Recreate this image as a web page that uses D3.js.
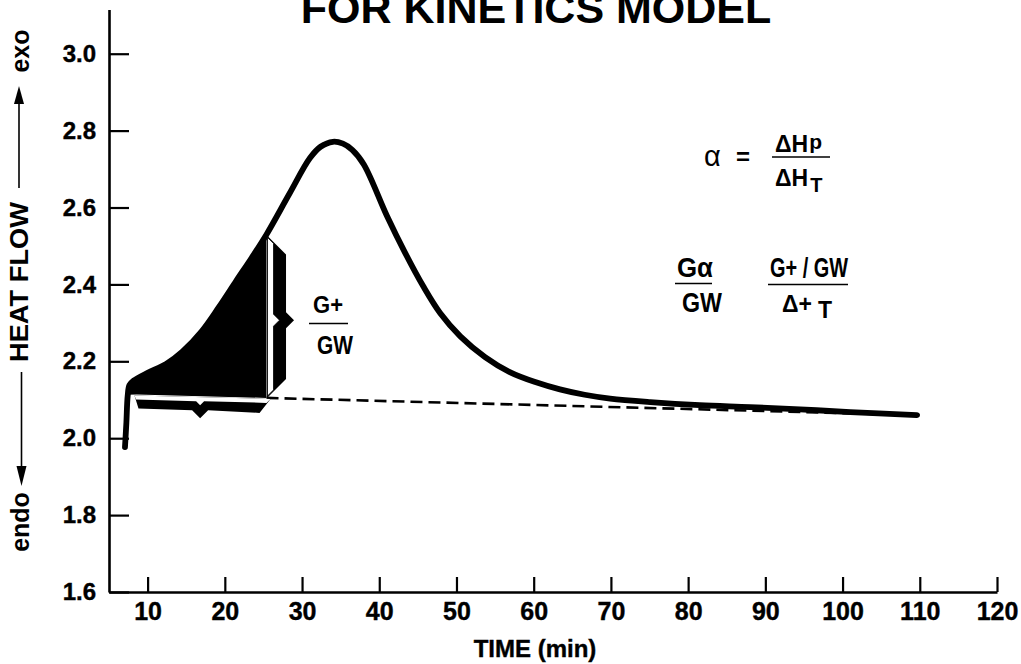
<!DOCTYPE html>
<html><head><meta charset="utf-8">
<script src="https://cdn.jsdelivr.net/npm/d3@7"></script>
<style>
body{margin:0;background:#fff}
svg{display:block}
text{font-family:"Liberation Sans",Arial,Helvetica,sans-serif;font-weight:bold;fill:#000}
</style>
</head><body>
<svg id="chart" width="1021" height="664"></svg>
<script>
// ---------------- data ----------------
const titleText = "FOR KINETICS MODEL";
const xLabel = "TIME (min)";
const yLabelParts = ["endo", "HEAT FLOW", "exo"];
const xTicks = [10, 20, 30, 40, 50, 60, 70, 80, 90, 100, 110, 120];
const yTicks = [1.6, 1.8, 2.0, 2.2, 2.4, 2.6, 2.8, 3.0];
// DSC heat-flow trace (time in min, heat flow)
const curveTime = [7.07, 7.25, 7.42, 7.65, 8.2, 10.0, 12.4, 14.5, 17.0, 19.2, 21.5, 23.5, 25.4,
  28.4, 31.0, 32.4, 34.0, 35.3, 36.5, 38.0, 41.0, 43.3, 45.7, 47.9, 50.5, 53.7, 56.9, 60.2,
  63.4, 66.6, 69.9, 75.1, 81.5, 88.0, 94.5, 101.0, 109.6];
const curveHeat = [1.977, 2.040, 2.110, 2.138, 2.150, 2.170, 2.193, 2.225, 2.278, 2.340, 2.410, 2.470, 2.530,
  2.637, 2.728, 2.758, 2.771, 2.766, 2.750, 2.712, 2.578, 2.484, 2.395, 2.325, 2.265, 2.211, 2.172, 2.146,
  2.127, 2.113, 2.103, 2.094, 2.086, 2.081, 2.075, 2.068, 2.060];
// straight baseline (dashed)
const baseTime = [8.0, 110.0];
const baseHeat = [2.114, 2.060];
// partial area limits (time)
const partialStart = 7.42;
const partialEnd = 25.4;
const hBraceTip = 16.8;

// ---------------- layout ----------------
const svg = d3.select("#chart");
const x = d3.scaleLinear().domain([5, 120]).range([109, 997]);
const y = d3.scaleLinear().domain([1.6, 3.115]).range([592, 9.5]);
const baseAt = d3.scaleLinear().domain(baseTime).range(baseHeat);

// axes
const gx = svg.append("g").attr("transform", `translate(0,${y(1.6)})`)
  .call(d3.axisBottom(x).tickValues(xTicks).tickSizeInner(-15).tickSizeOuter(0).tickPadding(10));
const gy = svg.append("g").attr("transform", `translate(${x(5)},0)`)
  .call(d3.axisLeft(y).tickValues(yTicks).tickFormat(d3.format(".1f")).tickSizeInner(-20).tickSizeOuter(0).tickPadding(13));
[gx, gy].forEach(g => {
  g.select(".domain").attr("stroke", "#000").attr("stroke-width", 2.6);
  g.selectAll(".tick line").attr("stroke", "#000").attr("stroke-width", 2.2);
  g.selectAll(".tick text").style("font-size", "24px").attr("fill", "#000")
    .attr("stroke", "#000").attr("stroke-width", 0.4);
});
gx.selectAll(".tick text").style("font-size", "25px");

// title & axis labels
svg.append("text").attr("x", 536).attr("y", 23).attr("text-anchor", "middle")
  .style("font-size", "43px").text(titleText);
svg.append("text").attr("x", 535).attr("y", 657).attr("text-anchor", "middle")
  .style("font-size", "24px").attr("stroke", "#000").attr("stroke-width", 0.4).text(xLabel);

// rotated y label pieces
const yl = [
  {t: yLabelParts[0], cy: 522, bx: 29, fs: 25},
  {t: yLabelParts[1], cy: 282, bx: 28, fs: 26, len: 160},
  {t: yLabelParts[2], cy: 51, bx: 29, fs: 25}
];
yl.forEach(d => {
  const t = svg.append("text").attr("transform", `translate(${d.bx},${d.cy}) rotate(-90)`)
    .attr("text-anchor", "middle").style("font-size", d.fs + "px").text(d.t);
  if (d.len) t.attr("textLength", d.len).attr("lengthAdjust", "spacingAndGlyphs");
});
// arrows
svg.append("line").attr("x1", 19).attr("x2", 19).attr("y1", 188).attr("y2", 100)
  .attr("stroke", "#000").attr("stroke-width", 1.6);
svg.append("path").attr("d", "M19,86 L14,104 L24,104 Z").attr("fill", "#000");
svg.append("line").attr("x1", 21.5).attr("x2", 21.5).attr("y1", 372).attr("y2", 470)
  .attr("stroke", "#000").attr("stroke-width", 1.6);
svg.append("path").attr("d", "M21.5,486 L16.5,466 L26.5,466 Z").attr("fill", "#000");

// ---------------- marks ----------------
const pts = curveTime.map((t, i) => [t, curveHeat[i]]);
const line = d3.line().x(d => x(d[0])).y(d => y(d[1])).curve(d3.curveCatmullRom.alpha(0.5));

// dashed baseline
svg.append("line")
  .attr("x1", x(partialEnd)).attr("y1", y(baseAt(partialEnd)))
  .attr("x2", x(baseTime[1])).attr("y2", y(baseHeat[1]))
  .attr("stroke", "#000").attr("stroke-width", 2.6).attr("stroke-dasharray", "12,6");

// filled partial area
const sub = pts.filter(d => d[0] >= partialStart && d[0] <= partialEnd);
const fillPath = line(sub) +
  `L${x(partialEnd)},${y(baseAt(partialEnd))}L${x(partialStart)},${y(baseAt(partialStart))}Z`;
svg.append("path").attr("d", fillPath).attr("fill", "#000");

// main curve
svg.append("path").attr("d", line(pts)).attr("fill", "none")
  .attr("stroke", "#000").attr("stroke-width", 5.8).attr("stroke-linejoin", "round").attr("stroke-linecap", "round");

// vertical brace
const xb = x(partialEnd) + 0.5;
const yt = y(curveHeat[curveTime.indexOf(partialEnd)]);
const yb = y(baseAt(partialEnd));
const ym = (yt + yb) / 2 + 4;
function braceV(x0, ytop, ybot, w, t, mid) {
  return `M${x0},${ytop}L${x0 + w},${ytop + w}L${x0 + w},${mid - t}L${x0 + w + t},${mid}` +
    `L${x0 + w},${mid + t}L${x0 + w},${ybot - w}L${x0},${ybot}Z`;
}
svg.append("path").attr("d", braceV(xb, yt + 1, yb, 19, 8, ym)).attr("fill", "#000");
svg.append("path").attr("d", braceV(xb + 0.5, yt + 3, yb - 2, 6, 6, ym)).attr("fill", "#fff")
  .attr("stroke", "#000").attr("stroke-width", 0.8);

// horizontal brace under the partial area
const xl = x(8.3), xr = x(partialEnd) + 4, xm = x(hBraceTip);
const yl0 = y(baseAt(8.3)) + 1, yr0 = y(baseAt(partialEnd)) + 1, ym0 = y(baseAt(hBraceTip)) + 1;
svg.append("path").attr("d",
  `M${xl},${yl0}L${xr},${yr0}L${xr - 11},${yr0 + 14}L${xm + 8},${ym0 + 13}L${xm},${ym0 + 21}` +
  `L${xm - 8},${ym0 + 13}L${xl + 4},${yl0 + 13}Z`).attr("fill", "#000");
svg.append("path").attr("d",
  `M${xl},${yl0}L${xr},${yr0}L${xr - 4},${yr0 + 4}L${xm + 4},${ym0 + 4}L${xm},${ym0 + 8}` +
  `L${xm - 4},${ym0 + 4}L${xl + 1.5},${yl0 + 4}Z`).attr("fill", "#fff");

// ---------------- annotations ----------------
function frac(x1, x2, yy) {
  svg.append("line").attr("x1", x1).attr("x2", x2).attr("y1", yy).attr("y2", yy)
    .attr("stroke", "#000").attr("stroke-width", 1.5);
}
// G+ / GW beside brace
svg.append("text").attr("x", 313).attr("y", 313).style("font-size", "23px")
  .attr("textLength", 30).attr("lengthAdjust", "spacingAndGlyphs").text("G+");
frac(309, 348, 323.5);
svg.append("text").attr("x", 317).attr("y", 354).style("font-size", "26px")
  .attr("textLength", 36).attr("lengthAdjust", "spacingAndGlyphs").text("GW");

// alpha = dHp / dHT
svg.append("text").attr("x", 704).attr("y", 166).style("font-size", "29px").style("font-weight", "normal").text("α");
svg.append("text").attr("x", 736).attr("y", 165).style("font-size", "24px").text("=");
const t1 = svg.append("text").attr("x", 775).attr("y", 152).style("font-size", "23px");
t1.append("tspan").text("ΔH");
t1.append("tspan").attr("dy", -3).attr("dx", 1).style("font-size", "21px").text("p");
frac(772, 830, 157);
const t2 = svg.append("text").attr("x", 775).attr("y", 186).style("font-size", "23px");
t2.append("tspan").text("ΔH");
t2.append("tspan").attr("dy", 6).attr("dx", 2).style("font-size", "20px").text("T");

// G alpha / GW
svg.append("text").attr("x", 677).attr("y", 277).style("font-size", "27px")
  .attr("textLength", 36).attr("lengthAdjust", "spacingAndGlyphs").text("Gα");
frac(675, 712, 283.5);
svg.append("text").attr("x", 682).attr("y", 312).style("font-size", "27px")
  .attr("textLength", 40).attr("lengthAdjust", "spacingAndGlyphs").text("GW");

// G+ / GW over D+ T
svg.append("text").attr("x", 770).attr("y", 277).style("font-size", "27px")
  .attr("textLength", 78).attr("lengthAdjust", "spacingAndGlyphs").text("G+ / GW");
frac(768, 848, 284.5);
const t3 = svg.append("text").attr("x", 782).attr("y", 311.5).style("font-size", "23px");
t3.append("tspan").text("Δ+");
t3.append("tspan").attr("dy", 6.5).attr("dx", 6).style("font-size", "23px").text("T");
</script>
</body></html>
